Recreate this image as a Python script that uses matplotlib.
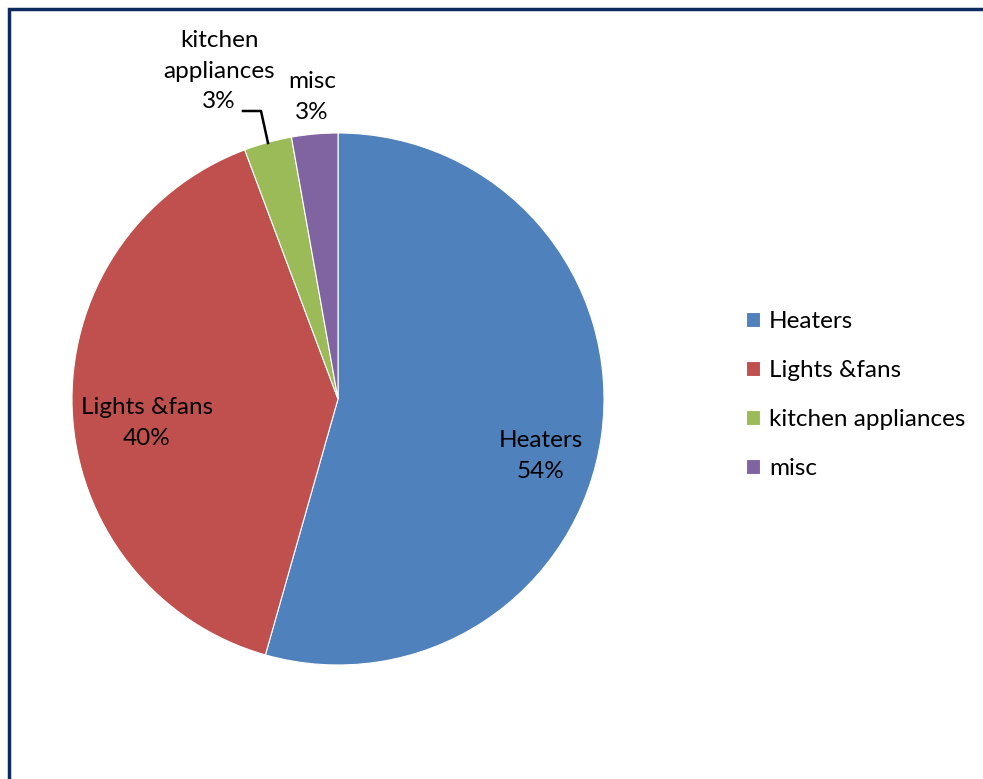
import matplotlib
matplotlib.use("Agg")
import matplotlib.pyplot as plt
from matplotlib.patches import Rectangle

categories = ["Heaters", "Lights &fans", "kitchen appliances", "misc"]
values = [54.4, 39.9, 2.9, 2.8]
pct_labels = ["54%", "40%", "3%", "3%"]
colors = ["#4F81BD", "#C0504D", "#9BBB59", "#8064A2"]

plt.rcParams['font.family'] = ['Lato', 'DejaVu Sans']
W, H = 983, 779
fig = plt.figure(figsize=(W/100, H/100), dpi=100)

# border frame (extends past right and bottom edges)
fig.patches.append(Rectangle((9/W, -0.1), 1.2, 1.1 - 9.5/H, transform=fig.transFigure,
                             fill=False, edgecolor="#0F2A5F", linewidth=2.5))

cx, cy, r = 338, 399, 266
ax = fig.add_axes([(cx - r)/W, (H - cy - r)/H, 2*r/W, 2*r/H])
wedges, _ = ax.pie(values, colors=colors, startangle=90, counterclock=False,
                   wedgeprops=dict(edgecolor="white", linewidth=0.8))
ax.set_xlim(-1, 1); ax.set_ylim(-1, 1)
ax.set_aspect('equal')
ax.axis('off')

def fx(px): return px / W
def fy(py): return 1 - py / H

fs = 17.5
ls = 1.58
fig.text(fx(541), fy(456), categories[0] + "\n" + pct_labels[0], ha='center', va='center',
         fontsize=fs, linespacing=ls)
fig.text(fx(147), fy(423), categories[1] + "\n" + pct_labels[1], ha='center', va='center',
         fontsize=fs, linespacing=ls)
fig.text(fx(219), fy(71), "kitchen\nappliances\n" + pct_labels[2], ha='center', va='center',
         fontsize=fs, linespacing=ls)
fig.text(fx(312), fy(97), "misc\n" + pct_labels[3], ha='center', va='center',
         fontsize=fs, linespacing=ls)
fig.add_artist(plt.Line2D([fx(243), fx(261), fx(268)], [fy(111), fy(111), fy(143)],
                          transform=fig.transFigure, color='black', linewidth=1.8))

leg = fig.legend(wedges, categories, loc='center left', bbox_to_anchor=(fx(724), fy(395)),
                 frameon=False, fontsize=fs, handlelength=0.6, handleheight=0.6,
                 handletextpad=0.35, labelspacing=1.15)

fig.savefig("out.png", dpi=100)
